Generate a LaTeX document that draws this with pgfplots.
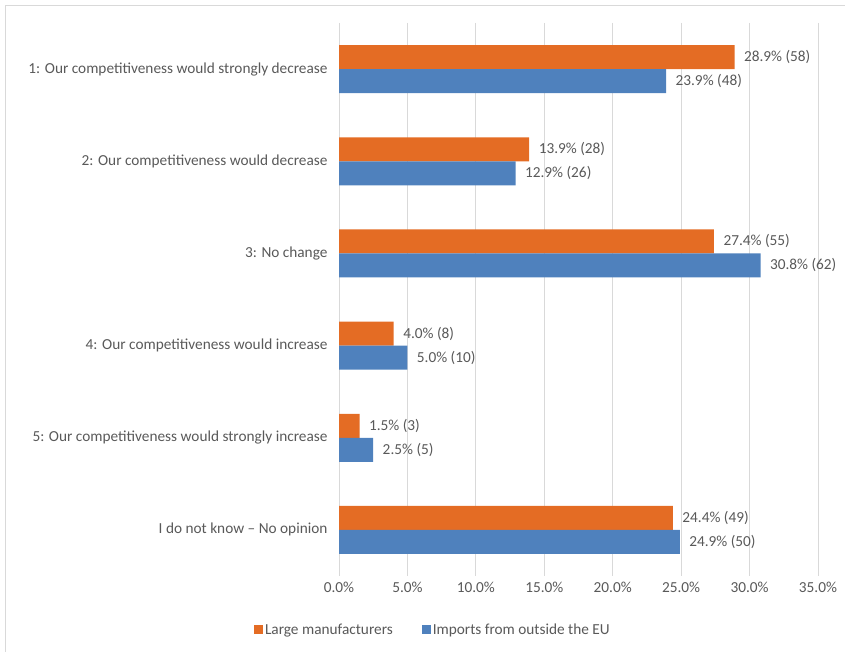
\documentclass[border=0pt]{standalone}
\usepackage{pgfplots}
\pgfplotsset{compat=1.18}
\usepackage{fontspec}
\setmainfont{Carlito}
\definecolor{orng}{HTML}{E46C24}
\definecolor{blu}{HTML}{4F81BD}
\definecolor{txt}{HTML}{595959}
\definecolor{grd}{HTML}{D9D9D9}
\begin{document}
\begin{tikzpicture}[x=1pt,y=1pt]
\useasboundingbox (0,0) rectangle (845,652);
\draw[grd, line width=1pt] (5.5,0) -- (5.5,646.5) -- (845,646.5);
\begin{axis}[
  at={(339pt,76pt)}, anchor=south west,
  width=479pt, height=553pt, scale only axis,
  xbar, xmin=0, xmax=35, ymin=-0.5, ymax=5.5, y dir=reverse,
  ytick={0,...,5},
  yticklabels={1: Our competitiveness would strongly decrease,
               2: Our competitiveness would decrease,
               3: No change,
               4: Our competitiveness would increase,
               5: Our competitiveness would strongly increase,
               I do not know -- No opinion},
  xtick={0,5,...,35},
  xticklabel={\pgfmathprintnumber[fixed,fixed zerofill,precision=1]{\tick}\%},
  /pgf/number format/assume math mode=true,
  axis line style={draw=none}, major tick length=0pt,
  xmajorgrids, grid style={grd, line width=0.9pt},
  tick label style={font=\fontsize{15.3}{18}\selectfont, text=txt},
  yticklabel style={xshift=-8pt},
  xticklabel style={yshift=-3pt},
  bar width=24pt,
  nodes near coords, point meta=explicit symbolic,
  nodes near coords style={font=\fontsize{15.3}{18}\selectfont, text=txt, anchor=west, xshift=6pt},
  legend columns=2,
  legend style={at={(rel axis cs:0.196,-0.0976)}, anchor=center, draw=none,
    font=\fontsize{15.3}{18}\selectfont, text=txt,
    /tikz/every even column/.append style={column sep=27pt}},
  legend image code/.code={\fill[#1] (0pt,-4.5pt) rectangle (9pt,4.5pt);},
]
\addplot[fill=orng, draw=none, bar shift=12pt] coordinates {
  (28.9,0) [28.9\% (58)]
  (13.9,1) [13.9\% (28)]
  (27.4,2) [27.4\% (55)]
  (4.0,3) [4.0\% (8)]
  (1.5,4) [1.5\% (3)]
  (24.4,5) [24.4\% (49)]
};
\addplot[fill=blu, draw=none, bar shift=-12pt] coordinates {
  (23.9,0) [23.9\% (48)]
  (12.9,1) [12.9\% (26)]
  (30.8,2) [30.8\% (62)]
  (5.0,3) [5.0\% (10)]
  (2.5,4) [2.5\% (5)]
  (24.9,5) [24.9\% (50)]
};
\legend{Large manufacturers, Imports from outside the EU}
\end{axis}
\end{tikzpicture}
\end{document}
